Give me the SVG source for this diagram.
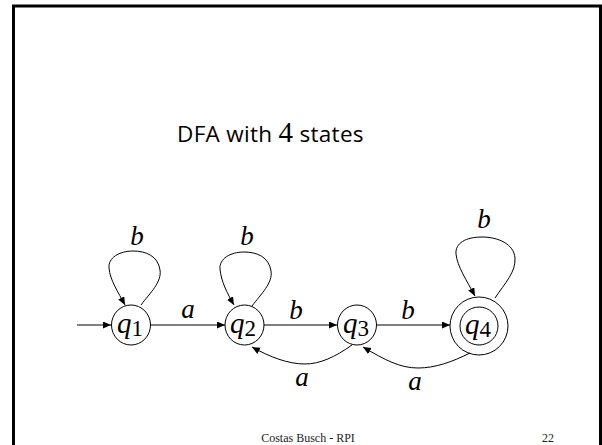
<svg xmlns="http://www.w3.org/2000/svg" width="602" height="445" viewBox="0 0 602 445">
  <style>
    .state { fill: none; stroke: #000; stroke-width: 1; }
    .edge { fill: none; stroke: #000; stroke-width: 1; marker-end: url(#arrow); }
    .sym { font-family: "Liberation Serif", serif; font-style: italic; font-size: 27px; fill: #000; }
    .name { font-family: "Liberation Serif", serif; font-style: italic; font-size: 29px; fill: #000; }
    .sub { font-style: normal; font-size: 23px; }
    .title { font-family: "Open Sans", Lato, sans-serif; font-size: 22.5px; letter-spacing: 0.3px; fill: #000; }
    .foot { font-family: "Liberation Serif", serif; font-size: 12px; fill: #222; }
  </style>
  <defs>
    <marker id="arrow" markerUnits="userSpaceOnUse" markerWidth="9" markerHeight="8" refX="8" refY="3.5" orient="auto">
      <path d="M0,0 L8,3.5 L0,7 z" fill="#000"/>
    </marker>
  </defs>

  <rect width="602" height="445" fill="#fff"/>
  <!-- slide frame -->
  <path d="M13.5,445 L13.5,6 L600.5,6 L600.5,445" fill="none" stroke="#000" stroke-width="3"/>

  <text class="title" x="177" y="142">DFA with <tspan font-family="'Liberation Serif', serif" font-size="29px">4</tspan> states</text>

  <g id="connectors">
    <path id="start" class="edge" d="M77,325 L111,325"/>
    <path id="q1-q1" class="edge" d="M141,305 C150,293 162,282 160,270 C158,256 146,251 133,251 C119,251 108,258 109,268 C110,280 118,292 125,305"/>
    <path id="q1-q2" class="edge" d="M150,325 L225,325"/>
    <path id="q2-q2" class="edge" d="M252,306 C261,294 273,283 271,271 C269,257 257,252 244,252 C230,252 219,259 220,269 C221,281 227,293 234,305"/>
    <path id="q2-q3" class="edge" d="M264,325 L337,325"/>
    <path id="q3-q4" class="edge" d="M377,325 L450,325"/>
    <path id="q4-q4" class="edge" d="M495,298 C505,283 516,272 515,258 C514,244 498,237 482,237 C466,237 455,243 456,254 C457,266 467,281 475,296"/>
    <path id="q3-q2" class="edge" d="M352,345 C335,357 320,364 305,364 C288,364 270,357 252,347"/>
    <path id="q4-q3" class="edge" d="M470,353 C452,362 435,368 418,368 C400,368 385,360 363,347"/>
    <text class="sym" x="137" y="245" text-anchor="middle">b</text>
    <text class="sym" x="188" y="318" text-anchor="middle">a</text>
    <text class="sym" x="247" y="245" text-anchor="middle">b</text>
    <text class="sym" x="296" y="319" text-anchor="middle">b</text>
    <text class="sym" x="408" y="319" text-anchor="middle">b</text>
    <text class="sym" x="484" y="228" text-anchor="middle">b</text>
    <text class="sym" x="302" y="386" text-anchor="middle">a</text>
    <text class="sym" x="415" y="390" text-anchor="middle">a</text>
  </g>

  <g id="q1">
    <ellipse class="state" cx="131" cy="325" rx="19.5" ry="20"/>
    <text class="name" x="117" y="333">q<tspan class="sub" dy="3">1</tspan></text>
  </g>
  <g id="q2">
    <ellipse class="state" cx="244.5" cy="325" rx="19.5" ry="20"/>
    <text class="name" x="230" y="333">q<tspan class="sub" dy="3">2</tspan></text>
  </g>
  <g id="q3">
    <ellipse class="state" cx="357" cy="325" rx="19.5" ry="20"/>
    <text class="name" x="343" y="333">q<tspan class="sub" dy="3">3</tspan></text>
  </g>
  <g id="q4">
    <circle class="state" cx="479" cy="326" r="29"/>
    <circle class="state" cx="479" cy="326" r="19"/>
    <text class="name" x="465" y="334">q<tspan class="sub" dy="3">4</tspan></text>
  </g>

  <text class="foot" x="308" y="442" text-anchor="middle">Costas Busch - RPI</text>
  <text class="foot" x="548" y="442" text-anchor="middle">22</text>
</svg>
